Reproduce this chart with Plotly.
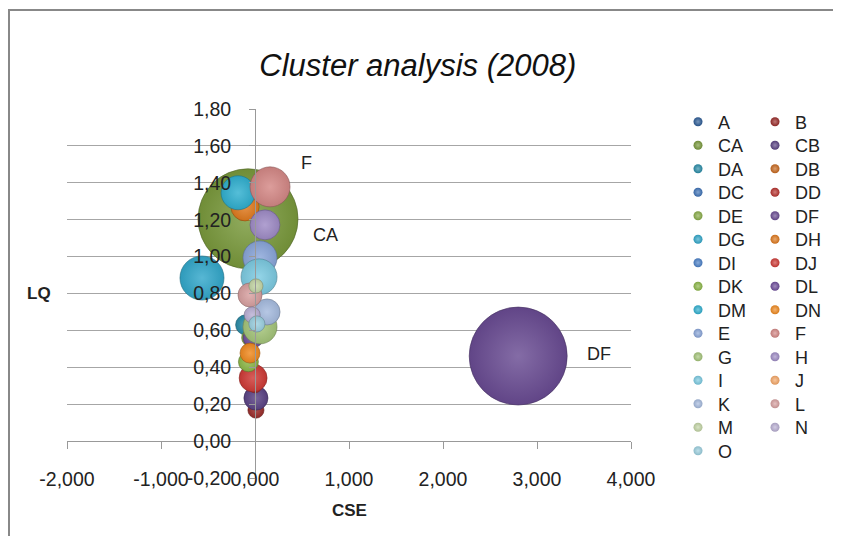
import plotly.graph_objects as go

# series names in legend order
names = ["A", "B", "CA", "CB", "DA", "DB", "DC", "DD", "DE", "DF",
         "DG", "DH", "DI", "DJ", "DK", "DL", "DM", "DN", "E", "F",
         "G", "H", "I", "J", "K", "L", "M", "N", "O"]

# CSE (x), LQ (y) and bubble size
cse = [-0.05, 0.01, -0.074, 0.01, -0.10, -0.12, 0.10, 0.00, -0.05, 2.80,
       -0.564, -0.106, 0.04, -0.02, -0.07, -0.02, -0.18, -0.053, 0.053, 0.16,
       0.053, 0.106, 0.043, 0.10, 0.128, -0.053, 0.01, -0.03, 0.02]
lq = [0.60, 0.168, 1.205, 0.233, 0.63, 1.25, 1.17, 0.30, 0.56, 0.461,
      0.884, 1.27, 0.95, 0.342, 0.43, 0.56, 1.346, 0.477, 0.993, 1.378,
      0.619, 1.172, 0.89, 0.70, 0.70, 0.792, 0.841, 0.684, 0.635]
bubble = [2.0, 2.6, 100, 5.8, 4.0, 4.0, 3.0, 2.0, 3.0, 96,
          19.4, 8.0, 2.0, 7.8, 4.0, 4.0, 11.6, 4.0, 11.6, 16,
          11.6, 9.0, 13.0, 1.0, 6.8, 5.8, 2.0, 2.6, 2.6]

colors = ["#2D5C96", "#9A2C2A", "#7A9A3C", "#5B4385", "#2A8CA8", "#C8691E",
          "#3F73B8", "#B8332F", "#89AD48", "#6A4C93", "#33A8CB", "#E07A1E",
          "#4A80C8", "#CF3A36", "#8DB848", "#6F4E9C", "#30B0D0", "#F08A20",
          "#8AA6DA", "#D58886", "#A5C57A", "#9F8CC6", "#7CCBE2", "#F6A868",
          "#A6BBDF", "#D8A0A0", "#C4D6A6", "#BAB0D4", "#9CD0E0"]

x_ticks = [-2, -1, 0, 1, 2, 3, 4]
x_labels = ["-2,000", "-1,000", "0,000", "1,000", "2,000", "3,000", "4,000"]
y_ticks = [-0.2, 0, 0.2, 0.4, 0.6, 0.8, 1.0, 1.2, 1.4, 1.6, 1.8]
y_labels = ["-0,20", "0,00", "0,20", "0,40", "0,60", "0,80", "1,00", "1,20",
            "1,40", "1,60", "1,80"]

labelled = {"F": (29, 24), "CA": (63, -16), "DF": (67, 2)}


def shade(hexc, f):
    r, g, b = int(hexc[1:3], 16), int(hexc[3:5], 16), int(hexc[5:7], 16)
    if f >= 0:
        r, g, b = [int(c + (255 - c) * f) for c in (r, g, b)]
    else:
        r, g, b = [int(c * (1 + f)) for c in (r, g, b)]
    return "#%02x%02x%02x" % (r, g, b)


# page pixel -> paper helpers (plot area spans 67..631 x 109..478 on the page)
def px(v):
    return (v - 67) / 564


def py(v):
    return (478 - v) / 369


max_d = 100
sizeref = 2.0 * max(bubble) / max_d ** 2

fig = go.Figure()
for i, n in enumerate(names):
    c = colors[i]
    fig.add_trace(go.Scatter(
        x=[cse[i]], y=[lq[i]], mode="markers", name=n, showlegend=False,
        marker=dict(size=[bubble[i]], sizemode="area", sizeref=sizeref,
                    opacity=1, color=shade(c, -0.08),
                    gradient=dict(type="radial", color=shade(c, 0.18)),
                    line=dict(width=0.6, color=shade(c, -0.35)))))

# legend: one small legend per entry, two columns
legends = {}
for i, n in enumerate(names):
    c = colors[i]
    lid = "legend" if i == 0 else "legend%d" % (i + 1)
    row, col = i // 2, i % 2
    legends[lid] = dict(x=px(678 if col == 0 else 755), y=py(122 + row * 23.5),
                        xanchor="left", yanchor="middle",
                        font=dict(size=18, color="#222"),
                        bgcolor="rgba(0,0,0,0)")
    fig.add_trace(go.Scatter(
        x=[None], y=[None], mode="markers", name=n, legend=lid,
        marker=dict(size=9, color=shade(c, -0.1),
                    gradient=dict(type="radial", color=shade(c, 0.35)))))

for n, (dx, dy) in labelled.items():
    i = names.index(n)
    fig.add_annotation(x=cse[i], y=lq[i], text=n, showarrow=False,
                       xanchor="left", xshift=dx, yshift=dy,
                       font=dict(size=18, color="#222"))

fig.add_annotation(xref="paper", yref="paper", x=0, y=0.5, text="<b>LQ</b>",
                   showarrow=False, xanchor="right", xshift=-14,
                   font=dict(size=17, color="#222"))
fig.add_annotation(xref="paper", yref="paper", x=0.5, y=0, text="<b>CSE</b>",
                   showarrow=False, yanchor="middle", yshift=-32,
                   font=dict(size=17, color="#222"))

# chart frame
fig.add_shape(type="rect", xref="paper", yref="paper",
              x0=px(9), x1=px(900), y0=py(600), y1=py(10),
              line=dict(color="#888888", width=2), layer="below")

fig.update_layout(
    width=833, height=528,
    margin=dict(l=59, r=210, t=101, b=58),
    paper_bgcolor="white", plot_bgcolor="white",
    font=dict(family="Liberation Sans, Arial, sans-serif", color="#222"),
    title=dict(text="<i>Cluster analysis (2008)</i>", x=0.492,
               xref="container", xanchor="center", y=1 - 57 / 528,
               yanchor="middle", font=dict(size=31, color="#111")),
    xaxis=dict(range=[-2, 4], tickvals=x_ticks, ticktext=x_labels,
               showgrid=False, zeroline=True, zerolinecolor="#999",
               zerolinewidth=1, showline=True, linecolor="#999", linewidth=1,
               anchor="free", position=0.1, ticks="outside", ticklen=7,
               tickcolor="#999", ticklabelstandoff=13,
               tickfont=dict(size=19.5, color="#222")),
    yaxis=dict(range=[-0.2, 1.8], tickvals=y_ticks, ticktext=y_labels,
               showgrid=True, gridcolor="#a6a6a6", gridwidth=1,
               zeroline=False, showline=True, linecolor="#999", linewidth=1,
               anchor="free", position=1 / 3, ticks="outside", ticklen=6,
               tickcolor="#999", ticklabelstandoff=14,
               tickfont=dict(size=19.5, color="#222")),
    **legends,
)

fig.write_html("out.html")
